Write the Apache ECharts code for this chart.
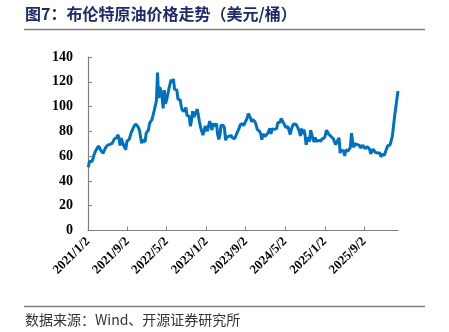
<!DOCTYPE html>
<html>
<head>
<meta charset="utf-8">
<script src="https://cdn.jsdelivr.net/npm/echarts@6/dist/echarts.min.js"></script>
<style>
html,body{margin:0;padding:0;background:#fff;}
#chart{width:449px;height:332px;}
</style>
</head>
<body>
<div id="chart"></div>
<script>
// Weekly Brent prices (USD/bbl), Monday-dated, starting 2021-01-04
const startDate = [2021, 1, 4];
const v2021 = [51.1,55.7,55.1,55.6, 57.5,61.1,63.3,65.2, 63.7,68.2,68.9,64.6,64.9, 62.2,63.3,66.6,65.7,
  68.9,68.3,69.5,68.5,70.3, 71.5,73.9,74.9,74.7, 77.2,75.2,68.6,74.5, 72.9,69.0,69.5,65.2,72.0,
  72.2,73.5,74.9,79.5, 81.3,83.7,85.3,85.9, 84.7,83.4,81.2,79.7,70.5, 73.1,73.9,71.5,78.6];
const v2022 = [79.0,81.0,86.5,86.3,89.2, 92.7,96.5,95.4,104.5, 127.5,106.9,115.6,112.5, 107.5,98.5,113.2,102.3,
  105.2,105.9,114.2,113.4,121.7, 119.5,122.3,114.1,115.1, 113.5,106.1,106.3,105.2, 100.0,96.7,95.1,96.5,99.3,
  93.0,94.0,92.0,84.1, 88.9,96.2,91.6,93.3,94.8, 97.9,93.1,87.5,83.2, 82.7,77.0,79.8,84.3];
const v2023 = [82.1,80.1,84.5,88.2,84.9, 81.0,86.6,84.1,82.5, 86.2,77.5,73.5,77.1, 84.9,84.2,84.8,82.7,
  72.8,75.3,75.2,76.0,77.1, 76.7,74.8,76.1,74.2, 75.4,78.5,79.6,82.7,85.4, 85.3,86.2,84.5,84.4,
  88.8,90.6,94.4,95.8, 90.9,87.7,89.7,91.2,87.5, 84.9,81.4,82.3,80.0, 78.0,73.2,77.9,79.0];
const v2024 = [75.9,76.1,78.3,80.0,82.4, 78.0,82.0,83.6,81.6, 82.8,82.2,86.9,86.8, 87.4,90.4,90.1,87.0,88.4,
  83.3,83.4,83.7,83.1, 77.5,81.6,84.3,86.0, 86.6,85.8,84.9,82.4,79.8, 76.3,82.3,77.7,81.4,
  77.5,69.2,72.8,75.2,71.7, 80.9,77.5,74.3,71.4, 75.1,71.8,73.3,72.8, 72.9,72.1,73.9,72.6,74.6];
const v2025 = [77.1,81.0,79.3,77.5, 76.0,75.9,75.2,74.0, 71.6,69.3,71.1,73.0,74.7, 62.5,64.9,66.3,64.3,
  60.2,65.0,65.5,64.1, 65.6,67.0,78.5,71.5,67.1, 70.2,69.2,69.2,70.0, 68.8,66.6,66.6,68.8,
  69.1,66.0,67.4,67.6,66.0, 65.5,61.9,61.0,65.6, 64.9,63.1,64.2,62.5, 63.3,62.5,59.5,61.5,61.0];
const v2026 = [60.8,63.5,64.5,68.5, 67.0,69.0,70.5,76.0, 84.0,92.0,99.0,106.0,112.5];
const values = [].concat(v2021, v2022, v2023, v2024, v2025, v2026);

const tickLabels = ['2021/1/2','2021/9/2','2022/5/2','2023/1/2','2023/9/2','2024/5/2','2025/1/2','2025/9/2'];
const yTicks = [0,20,40,60,80,100,120,140];

function ts(y, m, d) { return Date.UTC(y, m - 1, d); }
const t0 = ts(startDate[0], startDate[1], startDate[2]);
const DAY = 86400000;
const seriesData = values.map((v, i) => [t0 + 7 * i * DAY, v]);
const tickTimes = tickLabels.map(s => { const p = s.split('/').map(Number); return ts(p[0], p[1], p[2]); });

const chart = echarts.init(document.getElementById('chart'), null, {renderer: 'canvas'});
const serif = 'Liberation Serif, Times New Roman, serif';
const cjk = 'Noto Sans CJK SC, sans-serif';
chart.setOption({
  animation: false,
  backgroundColor: '#fff',
  grid: {left: 88, right: 51, top: 57, bottom: 101.5, containLabel: false},
  xAxis: {
    type: 'value',
    min: tickTimes[0],
    max: seriesData[seriesData.length - 1][0],
    axisLine: {show: true, lineStyle: {color: '#808080', width: 1.2}},
    axisTick: {show: true, inside: true, length: 4, customValues: tickTimes, lineStyle: {color: '#808080'}},
    axisLabel: {
      show: true, rotate: 45, margin: 9, customValues: tickTimes,
      fontFamily: serif, fontWeight: 'bold', fontSize: 13, color: '#000',
      formatter: function (v) {
        let best = 0;
        tickTimes.forEach((t, i) => { if (Math.abs(t - v) < Math.abs(tickTimes[best] - v)) best = i; });
        return tickLabels[best];
      }
    },
    splitLine: {show: false}
  },
  yAxis: {
    type: 'value', min: yTicks[0], max: yTicks[yTicks.length - 1], interval: 20,
    axisLine: {show: true, lineStyle: {color: '#808080', width: 1.2}},
    axisTick: {show: true, inside: true, length: 4, lineStyle: {color: '#808080'}},
    axisLabel: {fontFamily: serif, fontWeight: 'bold', fontSize: 14, color: '#000', margin: 15},
    splitLine: {show: false}
  },
  series: [{
    type: 'line', data: seriesData, showSymbol: false, symbol: 'none',
    lineStyle: {color: '#0070C0', width: 3}, itemStyle: {color: '#0070C0'}
  }],
  graphic: [
    {type: 'text', left: 25, top: 6, style: {text: '图7：布伦特原油价格走势（美元/桶）', font: 'bold 16px ' + cjk, fill: '#1f2a6b'}},
    {type: 'line', shape: {x1: 24, y1: 29.5, x2: 425, y2: 29.5}, style: {stroke: '#7f7f7f', lineWidth: 1.3}},
    {type: 'line', shape: {x1: 24, y1: 306.5, x2: 425, y2: 306.5}, style: {stroke: '#7f7f7f', lineWidth: 1.3}},
    {type: 'text', left: 25, top: 313, style: {text: '数据来源：Wind、开源证券研究所', font: '14px ' + cjk, fill: '#333'}}
  ]
});
</script>
</body>
</html>
